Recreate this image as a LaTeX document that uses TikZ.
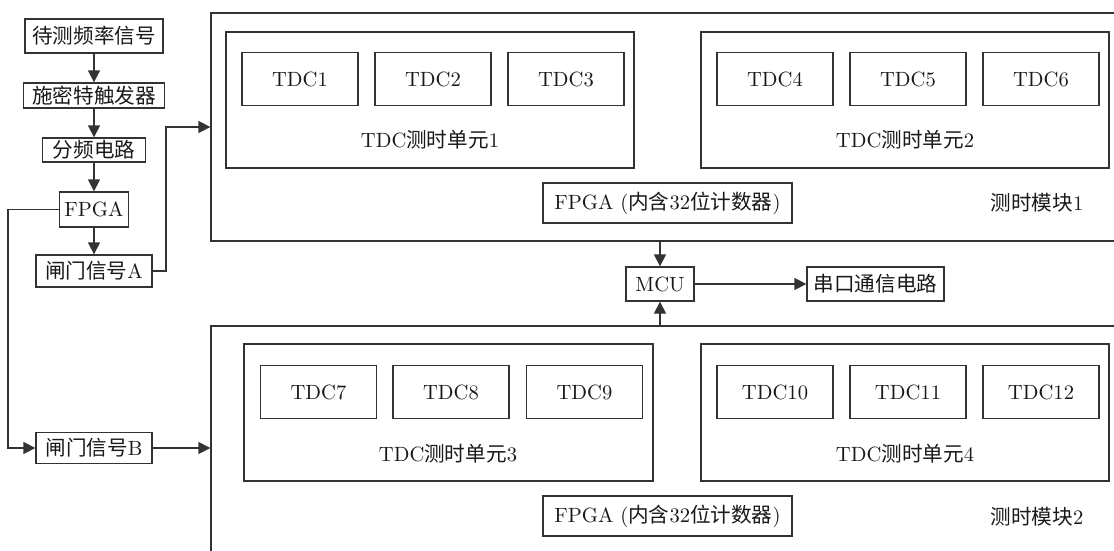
\documentclass[tikz,border=0pt]{standalone}
\usepackage{fontspec}
\setmainfont{lmroman10-regular}[Extension=.otf]
\newfontfamily\cjk{Noto Sans CJK SC}
\usetikzlibrary{arrows.meta}
\tikzset{
  box/.style={draw=black!80, line width=1.3pt, inner sep=0pt, text=black!90,
    font=\fontsize{20.6}{24}\selectfont},
  lbl/.style={inner sep=0pt, text=black!90, font=\fontsize{20.6}{24}\selectfont},
  conn/.style={draw=black!80, line width=1.3pt},
  arr/.style={conn, -{Triangle[length=12pt,width=12pt]}},
  tdc/.style={box, minimum width=116pt, minimum height=53pt},
  unit/.style={box, minimum width=408pt, minimum height=136pt},
  fpgabig/.style={box, minimum width=249pt, minimum height=40pt},
}
\begin{document}
\begin{tikzpicture}[x=1pt,y=-1pt]
\useasboundingbox (0,0) rectangle (1114,550);
\clip (0,0) rectangle (1114,550);
\fill[white] (0,0) rectangle (1114,550);

% left column
\node[box, minimum width=138pt, minimum height=34pt] (n1) at (94,36) {{\cjk 待测频率信号}};
\node[box, minimum width=141pt, minimum height=25pt] (n2) at (94,95.5) {{\cjk 施密特触发器}};
\node[box, minimum width=103pt, minimum height=24pt] (n3) at (94,150) {{\cjk 分频电路}};
\node[box, minimum width=69pt, minimum height=35pt] (fp) at (94,209.5) {FPGA};
\node[box, minimum width=116pt, minimum height=32pt] (ga) at (94,271) {{\cjk 闸门信号}A};
\node[box, minimum width=116pt, minimum height=31pt] (gb) at (94,448) {{\cjk 闸门信号}B};

% modules
\node[box, minimum width=914pt, minimum height=228pt] (m1) at (668,127) {};
\node[box, minimum width=914pt, minimum height=244pt] (m2) at (668,448) {};

% units module 1
\node[unit] (u1) at (430,100) {};
\node[unit] (u2) at (905,100) {};
\node[tdc] (t1) at (300,79) {TDC1};
\node[tdc] (t2) at (433,79) {TDC2};
\node[tdc] (t3) at (566,79) {TDC3};
\node[tdc] (t4) at (775,79) {TDC4};
\node[tdc] (t5) at (908,79) {TDC5};
\node[tdc] (t6) at (1041,79) {TDC6};
\node[lbl] (l1) at (430,140) {TDC{\cjk 测时单元}1};
\node[lbl] (l2) at (905,140) {TDC{\cjk 测时单元}2};
\node[fpgabig] (f1) at (667.5,203) {FPGA ({\cjk 内含}32{\cjk 位计数器})};
\node[lbl] (mm1) at (1037,203) {{\cjk 测时模块}1};

% units module 2
\node[box, minimum width=409pt, minimum height=137pt] (u3) at (448.5,412.5) {};
\node[box, minimum width=408pt, minimum height=137pt] (u4) at (905,412.5) {};
\node[tdc] (t7) at (318.5,392) {TDC7};
\node[tdc] (t8) at (451,392) {TDC8};
\node[tdc] (t9) at (584.5,392) {TDC9};
\node[tdc] (t10) at (775,392) {TDC10};
\node[tdc] (t11) at (908,392) {TDC11};
\node[tdc] (t12) at (1041,392) {TDC12};
\node[lbl] (l3) at (448,454) {TDC{\cjk 测时单元}3};
\node[lbl] (l4) at (905,454) {TDC{\cjk 测时单元}4};
\node[fpgabig] (f2) at (667.5,516) {FPGA ({\cjk 内含}32{\cjk 位计数器})};
\node[lbl] (mm2) at (1037,517) {{\cjk 测时模块}2};

% MCU
\node[box, minimum width=68pt, minimum height=34pt] (mcu) at (660,284) {MCU};
\node[box, minimum width=137pt, minimum height=34pt] (ser) at (875.5,284) {{\cjk 串口通信电路}};

% connectors
\draw[arr] (n1) -- (n2);
\draw[arr] (n2) -- (n3);
\draw[arr] (n3) -- (fp);
\draw[arr] (fp) -- (ga);
\coordinate (c1) at (8,209.5);
\coordinate (c2) at (8,448);
\draw[arr] (fp.west) -- (c1) -- (c2) -- (gb.west);
\coordinate (c3) at (166,271);
\coordinate (c4) at (166,127);
\draw[arr] (ga.east) -- (c3) -- (c4) -- (m1.west);
\draw[arr] (gb.east) -- (m2.west);
\draw[arr] (mcu.north |- m1.south) -- (mcu.north);
\draw[arr] (mcu.south |- m2.north) -- (mcu.south);
\draw[arr] (mcu.east) -- (ser.west);
\end{tikzpicture}
\end{document}
